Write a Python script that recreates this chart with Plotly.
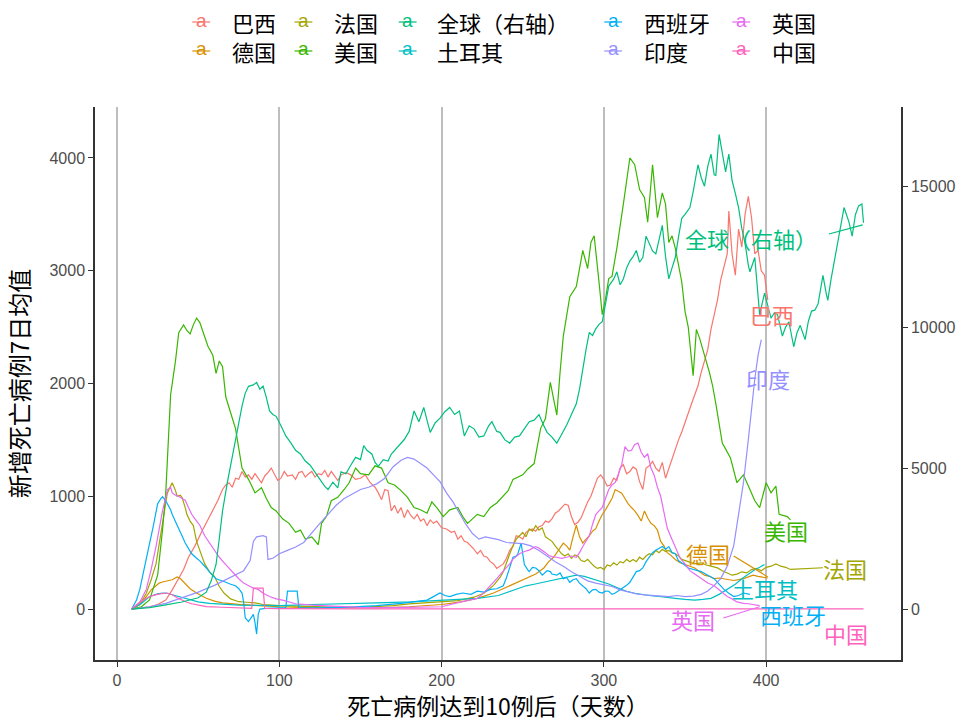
import plotly.graph_objects as go

# 死亡病例达到10例后的天数 / 新增死亡病例7日均值
brazil_day = [9, 20, 25, 30, 34, 38, 41, 44, 48, 52, 55, 59, 62, 65, 67, 69, 71, 73, 75, 77, 79, 81, 83, 85, 87, 89, 91, 93, 95, 97, 99, 101, 103, 105, 108, 110, 112, 114, 116, 118, 120, 122, 124, 126, 128, 130, 132, 134, 136, 138, 141, 144, 147, 150, 153, 156, 159, 161, 163, 165, 167, 169, 171, 173, 175, 177, 179, 181, 183, 185, 187, 189, 191, 193, 195, 197, 200, 203, 206, 208, 210, 212, 214, 216, 218, 220, 222, 224, 226, 228, 230, 232, 234, 236, 238, 240, 242, 244, 246, 248, 250, 252, 254, 256, 258, 260, 262, 264, 266, 268, 270, 272, 274, 276, 278, 280, 282, 284, 286, 288, 290, 292, 294, 296, 298, 300, 302, 304, 306, 308, 310, 312, 314, 316, 318, 320, 322, 324, 326, 328, 330, 332, 334, 336, 338, 340, 342, 344, 346, 348, 350, 352, 354, 356, 358, 360, 362, 364, 366, 368, 370, 372, 374, 376, 377, 379, 381, 383, 385, 387, 389, 391, 393, 395, 397, 399, 401]
brazil_val = [0, 20, 40, 80, 170, 270, 350, 460, 560, 680, 760, 870, 960, 1060, 1100, 1120, 1080, 1160, 1150, 1220, 1170, 1190, 1150, 1200, 1160, 1120, 1180, 1210, 1250, 1190, 1140, 1160, 1220, 1180, 1190, 1150, 1210, 1220, 1170, 1200, 1220, 1170, 1200, 1190, 1230, 1170, 1220, 1180, 1140, 1190, 1210, 1190, 1150, 1160, 1190, 1120, 1080, 1030, 970, 1060, 1050, 870, 920, 850, 900, 810, 880, 830, 800, 840, 780, 800, 740, 790, 760, 780, 720, 710, 680, 690, 620, 650, 600, 590, 560, 530, 490, 520, 470, 460, 420, 400, 360, 380, 400, 450, 520, 560, 650, 640, 620, 680, 700, 710, 690, 730, 740, 780, 770, 800, 850, 870, 900, 930, 920, 820, 750, 770, 810, 880, 950, 1000, 1080, 1160, 1190, 1150, 1090, 1100, 1160, 1140, 1250, 1280, 1200, 1220, 1260, 1240, 1130, 1060, 1250, 1270, 1310, 1250, 1220, 1300, 1160, 1250, 1340, 1420, 1500, 1570, 1660, 1750, 1820, 1900, 1980, 2100, 2200, 2300, 2480, 2600, 2740, 2920, 3050, 3150, 3530, 3150, 2960, 3370, 3210, 3500, 3660, 3470, 3150, 3180, 3000, 2960, 2740]

germany_day = [9, 14, 18, 21, 24, 26, 28, 30, 32, 34, 37, 39, 42, 45, 49, 52, 55, 60, 65, 75, 85, 100, 120, 140, 160, 180, 200, 212, 222, 232, 242, 252, 258, 263, 266, 269, 272, 275, 277, 279, 281, 283, 285, 287, 289, 291, 293, 295, 297, 299, 301, 303, 305, 307, 309, 311, 313, 315, 317, 319, 321, 323, 325, 327, 329, 331, 333, 335, 337, 339, 341, 344, 347, 350, 353, 356, 359, 362, 365, 368, 371, 374, 377, 380, 383, 386, 389, 392, 395, 398, 401]
germany_val = [0, 40, 110, 170, 206, 230, 240, 250, 253, 260, 285, 270, 222, 180, 142, 115, 95, 70, 54, 41, 32, 20, 10, 8, 10, 20, 40, 63, 95, 142, 206, 269, 310, 364, 420, 459, 520, 585, 560, 522, 640, 743, 640, 585, 620, 649, 690, 712, 780, 838, 880, 933, 980, 1060, 1040, 1028, 980, 933, 900, 870, 830, 780, 870, 807, 760, 740, 700, 600, 560, 500, 480, 440, 410, 395, 380, 364, 330, 300, 290, 270, 275, 269, 260, 253, 260, 269, 285, 300, 290, 285, 275]

france_day = [9, 14, 18, 21, 24, 26, 28, 30, 31, 33, 34, 36, 37, 39, 40, 42, 43, 45, 47, 49, 51, 54, 57, 60, 63, 66, 70, 75, 80, 85, 90, 95, 100, 110, 120, 130, 140, 150, 160, 170, 180, 190, 200, 210, 220, 226, 232, 236, 238, 240, 242, 244, 246, 248, 250, 252, 254, 256, 258, 260, 262, 264, 266, 268, 270, 272, 274, 276, 278, 280, 282, 284, 286, 288, 290, 292, 294, 296, 298, 300, 302, 304, 306, 308, 310, 312, 314, 316, 318, 320, 322, 324, 326, 328, 330, 332, 334, 336, 338, 340, 342, 344, 346, 348, 350, 353, 356, 360, 363, 366, 370, 373, 376, 379, 382, 385, 388, 391, 394, 397, 400, 403, 406, 409, 412, 415]
france_val = [0, 40, 140, 260, 400, 580, 780, 950, 1030, 1090, 1120, 1050, 1000, 1010, 990, 900, 840, 780, 740, 600, 520, 400, 330, 290, 200, 140, 90, 65, 60, 55, 40, 32, 30, 25, 20, 18, 15, 15, 20, 30, 45, 55, 63, 75, 105, 140, 210, 280, 330, 420, 490, 560, 620, 650, 680, 640, 710, 690, 740, 700, 720, 640, 620, 600, 560, 520, 490, 470, 490, 450, 480, 470, 430, 420, 440, 410, 380, 360, 370, 350, 390, 380, 410, 390, 420, 410, 440, 420, 440, 420, 460, 440, 470, 490, 480, 520, 500, 530, 510, 520, 500, 490, 470, 440, 430, 420, 400, 410, 390, 380, 365, 340, 320, 300, 310, 330, 320, 350, 360, 340, 370, 380, 400, 380, 370, 350]

usa_day = [9, 15, 20, 25, 28, 30, 33, 36, 38, 41, 43, 45, 47, 49, 51, 53, 56, 59, 61, 63, 65, 67, 70, 73, 77, 81, 85, 89, 92, 95, 98, 102, 106, 110, 113, 116, 120, 124, 126, 129, 132, 136, 140, 143, 147, 150, 155, 159, 163, 167, 171, 175, 179, 183, 187, 191, 194, 197, 201, 205, 210, 213, 216, 219, 222, 226, 230, 234, 238, 241, 244, 247, 250, 253, 257, 261, 264, 267, 269, 271, 273, 275, 279, 283, 287, 290, 292, 294, 297, 299, 301, 303, 305, 308, 312, 316, 319, 322, 325, 327, 330, 333, 336, 338, 340, 342, 344, 346, 348, 350, 352, 355, 357, 359, 361, 363, 365, 367, 369, 371, 373, 375, 378, 382, 386, 390, 393, 396, 398, 400, 403, 406, 408, 411, 413, 415]
usa_val = [0, 20, 80, 300, 700, 1030, 1900, 2200, 2450, 2520, 2470, 2440, 2520, 2580, 2540, 2450, 2330, 2250, 2090, 2200, 2150, 1880, 1750, 1600, 1250, 1150, 1030, 1075, 980, 900, 870, 800, 760, 680, 700, 620, 640, 570, 760, 820, 960, 990, 1060, 1120, 1250, 1200, 1190, 1270, 1250, 1120, 1100, 1050, 990, 900, 880, 850, 950, 900, 820, 880, 900, 820, 760, 800, 840, 820, 900, 940, 1000, 1050, 1150, 1170, 1190, 1240, 1290, 1600, 1690, 2010, 1880, 1720, 2100, 2420, 2770, 2860, 3180, 3020, 3250, 3310, 2900, 2610, 2750, 2930, 2950, 3200, 3590, 4000, 3940, 3720, 3650, 3430, 3940, 3470, 3690, 3590, 3250, 3310, 3200, 3050, 2900, 2640, 2500, 2070, 2480, 2400, 2290, 2200, 2100, 1980, 1820, 1650, 1470, 1420, 1340, 1120, 1190, 1060, 960, 900, 1000, 1120, 1030, 1090, 840, 830, 820, 790]

world_day = [9, 20, 30, 40, 50, 55, 58, 61, 63, 65, 68, 71, 73, 75, 77, 79, 81, 84, 86, 88, 90, 92, 94, 96, 98, 101, 104, 107, 110, 113, 116, 119, 122, 125, 128, 130, 133, 136, 138, 141, 144, 147, 150, 152, 154, 157, 159, 161, 164, 167, 169, 172, 175, 177, 180, 183, 186, 189, 191, 193, 196, 199, 202, 205, 208, 211, 214, 217, 220, 223, 226, 229, 231, 234, 236, 239, 242, 245, 248, 251, 254, 257, 260, 263, 265, 268, 271, 274, 277, 280, 283, 285, 287, 289, 291, 293, 295, 297, 299, 301, 303, 306, 308, 310, 312, 314, 316, 318, 320, 322, 324, 326, 328, 330, 332, 334, 336, 338, 340, 342, 344, 346, 348, 350, 353, 355, 358, 360, 362, 364, 366, 368, 369, 371, 373, 375, 377, 379, 381, 383, 385, 387, 389, 390, 393, 396, 399, 401, 403, 405, 407, 410, 412, 414, 417, 419, 421, 424, 426, 428, 430, 432, 435, 437, 438, 440, 442, 445, 448, 451, 453, 455, 457, 459, 460]
world_val = [0, 50, 150, 250, 400, 600, 1000, 1580, 2500, 3480, 4500, 5380, 6000, 6650, 7200, 7660, 7900, 7950, 8040, 7800, 7910, 7500, 7025, 6900, 6835, 6500, 6140, 5900, 5630, 5500, 5250, 5100, 4870, 4600, 4350, 4240, 4500, 4300, 4870, 4800, 5100, 5380, 5300, 5800, 5630, 5500, 5200, 5060, 5300, 5250, 5500, 5700, 5900, 6013, 6300, 7025, 6645, 7150, 6700, 6266, 6600, 6772, 7000, 7150, 6900, 7025, 6139, 6500, 6392, 6100, 6139, 6500, 6645, 6300, 6266, 6000, 5886, 6100, 6139, 6400, 6645, 6700, 6899, 6500, 6266, 6100, 5886, 6200, 6519, 6900, 7278, 7800, 8544, 9200, 9810, 9700, 9937, 10100, 10190, 10800, 11456, 11700, 11962, 11500, 11709, 12100, 12342, 12500, 12721, 12300, 12468, 13228, 12975, 12700, 12595, 13100, 13608, 12500, 11709, 12100, 12468, 13200, 13861, 14000, 14241, 14800, 15760, 15300, 15000, 15700, 16139, 15400, 15380, 16835, 16200, 15506, 16139, 15200, 14747, 14241, 13500, 12975, 12200, 11962, 12468, 10443, 11203, 10700, 10316, 10500, 10443, 9684, 10000, 10190, 9304, 9800, 10063, 9557, 10200, 10570, 10600, 10823, 11836, 11200, 10950, 11700, 12342, 13228, 14241, 13734, 13228, 13988, 14300, 14367, 13700]

turkey_day = [9, 15, 20, 25, 28, 31, 34, 38, 42, 46, 50, 57, 65, 75, 85, 100, 120, 140, 160, 181, 201, 222, 235, 242, 247, 252, 257, 263, 268, 273, 278, 283, 288, 293, 298, 303, 308, 314, 319, 324, 329, 334, 339, 344, 350, 356, 361, 366, 371, 376, 381, 385, 389, 393, 396, 399]
turkey_val = [0, 50, 111, 135, 142, 140, 127, 110, 95, 80, 63, 50, 41, 35, 32, 30, 40, 45, 55, 63, 79, 95, 120, 158, 180, 206, 220, 237, 255, 269, 285, 300, 290, 269, 245, 222, 190, 158, 140, 127, 118, 111, 100, 95, 85, 79, 85, 95, 130, 174, 220, 269, 310, 348, 370, 395]

spain_day = [9, 12, 14, 16, 18, 20, 22, 24, 25, 27, 28, 30, 31, 33, 34, 36, 38, 40, 42, 44, 46, 49, 51, 55, 58, 61, 64, 67, 70, 73, 75, 77, 78, 79, 81, 82, 84, 85, 86, 87, 88, 92, 100, 104, 105, 111, 112, 120, 140, 160, 175, 185, 191, 195, 199, 202, 205, 209, 213, 218, 222, 226, 230, 234, 238, 240, 242, 244, 246, 247, 249, 251, 253, 254, 256, 258, 260, 262, 265, 267, 268, 271, 273, 275, 277, 279, 281, 283, 285, 287, 289, 291, 293, 295, 297, 299, 301, 303, 305, 307, 310, 312, 314, 316, 318, 320, 322, 324, 326, 328, 330, 332, 334, 336, 338, 340, 342, 344, 346, 349, 352, 356, 360, 364, 368, 371, 374, 377, 380, 383, 386, 390]
spain_val = [0, 80, 174, 300, 427, 580, 712, 850, 933, 980, 997, 960, 933, 880, 838, 770, 712, 650, 585, 540, 490, 450, 427, 364, 310, 269, 250, 237, 220, 206, 180, 142, 60, -79, -111, -90, -47, -120, -222, -47, 0, 5, 10, 12, 158, 158, 12, 10, 15, 30, 50, 65, 79, 110, 142, 120, 111, 130, 142, 130, 158, 150, 174, 180, 206, 280, 364, 459, 470, 490, 585, 395, 350, 332, 370, 364, 340, 300, 340, 332, 310, 300, 320, 269, 280, 237, 260, 269, 230, 206, 180, 142, 170, 174, 150, 142, 160, 158, 130, 142, 170, 190, 210, 237, 280, 332, 340, 364, 420, 459, 500, 522, 540, 554, 530, 554, 500, 490, 427, 400, 364, 350, 332, 300, 269, 220, 174, 140, 111, 120, 142, 130]

india_day = [9, 20, 30, 40, 50, 60, 70, 78, 82, 84, 86, 90, 92, 93, 96, 100, 105, 110, 115, 120, 125, 130, 135, 140, 145, 150, 155, 160, 165, 170, 175, 179, 183, 187, 191, 195, 199, 203, 207, 211, 215, 219, 223, 227, 231, 235, 240, 245, 250, 255, 260, 265, 270, 275, 280, 285, 290, 295, 300, 305, 310, 315, 320, 325, 330, 335, 340, 345, 350, 355, 360, 364, 368, 372, 376, 380, 383, 386, 389, 391, 393, 395, 397]
india_val = [0, 20, 50, 100, 150, 210, 280, 340, 430, 600, 640, 650, 640, 440, 450, 490, 520, 550, 590, 680, 760, 840, 920, 980, 1020, 1060, 1080, 1110, 1160, 1260, 1320, 1345, 1330, 1290, 1250, 1190, 1130, 1030, 950, 850, 750, 670, 620, 640, 630, 615, 590, 585, 580, 560, 520, 470, 420, 380, 330, 290, 250, 230, 215, 200, 170, 150, 135, 125, 118, 112, 110, 120, 110, 115, 130, 160, 210, 270, 380, 560, 820, 1120, 1500, 1800, 2040, 2250, 2390]

uk_day = [9, 14, 18, 21, 24, 26, 28, 30, 31, 33, 34, 36, 38, 40, 42, 44, 46, 48, 51, 54, 57, 60, 63, 66, 69, 72, 75, 78, 81, 84, 87, 90, 94, 98, 102, 106, 110, 120, 130, 150, 170, 190, 200, 212, 222, 225, 228, 231, 234, 237, 240, 242, 244, 246, 248, 251, 254, 256, 258, 260, 262, 264, 266, 268, 271, 274, 277, 280, 283, 285, 287, 289, 291, 293, 295, 297, 299, 301, 303, 305, 307, 309, 311, 313, 315, 317, 319, 321, 323, 325, 327, 329, 331, 333, 335, 337, 339, 341, 344, 347, 350, 353, 356, 360, 364, 368, 372, 376, 379, 382, 386, 389, 396]
uk_val = [0, 60, 174, 350, 554, 720, 870, 990, 1060, 1080, 1030, 1010, 1000, 980, 965, 900, 840, 800, 743, 650, 585, 520, 459, 410, 364, 310, 269, 230, 206, 185, 174, 140, 111, 90, 79, 60, 47, 35, 30, 15, 12, 14, 20, 63, 95, 130, 174, 220, 269, 320, 364, 400, 443, 470, 490, 510, 522, 540, 554, 540, 522, 500, 475, 465, 459, 450, 459, 470, 459, 500, 554, 600, 649, 750, 838, 870, 900, 980, 1060, 1100, 1123, 1200, 1282, 1440, 1400, 1408, 1460, 1471, 1390, 1345, 1377, 1250, 1187, 1080, 1000, 860, 720, 650, 554, 450, 400, 340, 310, 269, 230, 206, 160, 111, 90, 63, 50, 47, 30]

china_day = [9, 14, 18, 21, 24, 27, 30, 32, 34, 37, 40, 43, 46, 50, 55, 65, 75, 83, 84, 90, 91, 100, 150, 200, 250, 300, 350, 400, 460]
china_val = [0, 60, 95, 115, 127, 135, 142, 138, 127, 100, 79, 60, 47, 35, 22, 16, 10, 5, 186, 186, 5, 3, 2, 2, 2, 2, 3, 2, 1]

series_names = ["巴西", "德国", "法国", "美国", "全球（右轴）", "土耳其", "西班牙", "印度", "英国", "中国"]
series_colors = ["#F8766D", "#D89000", "#A3A500", "#39B600", "#00BF7D",
                 "#00BFC4", "#00B0F6", "#9590FF", "#E76BF3", "#FF62BC"]
series_data = [(brazil_day, brazil_val), (germany_day, germany_val), (france_day, france_val),
               (usa_day, usa_val), (world_day, world_val), (turkey_day, turkey_val),
               (spain_day, spain_val), (india_day, india_val), (uk_day, uk_val),
               (china_day, china_val)]

# end-of-line labels (ggrepel style), in left-axis units
label_names = ["全球（右轴）", "巴西", "印度", "美国", "德国", "法国", "土耳其", "西班牙", "英国", "中国"]
label_day = [390.5, 403.5, 401, 412, 364, 448.5, 399, 416.5, 355, 449]
label_val = [3290, 2616, 2049, 700, 497, 364, 190, -40, -89, -213]
# label connector segments: (name, day0, val0, day1, val1)
segments = [("全球（右轴）", 438.7, 3326, 459.5, 3406),
            ("德国", 380, 470, 401, 285),
            ("法国", 415, 352, 435, 366),
            ("英国", 373.6, -80, 396, 20)]

CJK = "Noto Sans CJK SC"
fig = go.Figure()

for i, name in enumerate(series_names):
    d, v = series_data[i]
    fig.add_trace(go.Scatter(
        x=d, y=v, mode="lines", name=name,
        line=dict(color=series_colors[i], width=1.2),
        yaxis="y2" if name == "全球（右轴）" else "y",
        showlegend=False))

color_of = dict(zip(series_names, series_colors))

for name, dx, vy in zip(label_names, label_day, label_val):
    fig.add_annotation(x=dx, y=vy, xref="x", yref="y", text=name, showarrow=False,
                       font=dict(family=CJK, size=22, color=color_of[name]))

for name, x0, y0, x1, y1 in segments:
    fig.add_shape(type="line", xref="x", yref="y", x0=x0, y0=y0, x1=x1, y1=y1,
                  line=dict(color=color_of[name], width=1.2))

# legend drawn by hand: 2 rows x 5 columns, column-major like ggplot
key_px = [202, 305, 410, 617, 746]
text_px = [231, 334, 438, 646, 775]
row_py = [22, 51]
plot_l, plot_r, plot_t, plot_b = 95, 907, 107, 660
pw, ph = plot_r - plot_l, plot_b - plot_t
for i, name in enumerate(series_names):
    col, row = i // 2, i % 2
    kx = (key_px[col] - plot_l) / pw
    tx = (text_px[col] - plot_l) / pw
    ky = (plot_b - row_py[row]) / ph
    c = series_colors[i]
    fig.add_shape(type="line", xref="paper", yref="paper",
                  x0=kx - 9 / pw, x1=kx + 9 / pw, y0=ky, y1=ky,
                  line=dict(color=c, width=1.2))
    fig.add_annotation(x=kx, y=ky, xref="paper", yref="paper", text="a", showarrow=False,
                       font=dict(family="Liberation Sans", size=19, color=c),
                       xanchor="center", yanchor="middle", yshift=2)
    fig.add_annotation(x=tx, y=ky, xref="paper", yref="paper", text=name, showarrow=False,
                       font=dict(family=CJK, size=22, color="#000000"),
                       xanchor="left", yanchor="middle")

tick_font = dict(family="Liberation Sans", size=16, color="#4D4D4D")
fig.update_layout(
    width=968, height=722,
    margin=dict(l=plot_l, r=968 - plot_r, t=plot_t, b=722 - plot_b),
    paper_bgcolor="white", plot_bgcolor="white",
    showlegend=False,
    xaxis=dict(range=[-13.6, 483.1], tickvals=[0, 100, 200, 300, 400],
               showgrid=True, gridcolor="#BEBEBE", gridwidth=1.5, zeroline=False,
               showline=True, linecolor="#333333", linewidth=1.5,
               ticks="outside", ticklen=5, tickcolor="#333333", tickwidth=1.2,
               tickfont=tick_font,
               title=dict(text="死亡病例达到10例后（天数）",
                          font=dict(family=CJK, size=23, color="#000000"), standoff=5)),
    yaxis=dict(range=[-452, 4452], tickvals=[0, 1000, 2000, 3000, 4000],
               showgrid=False, zeroline=False,
               showline=True, linecolor="#333333", linewidth=1.5,
               ticks="outside", ticklen=5, tickcolor="#333333", tickwidth=1.2,
               tickfont=tick_font,
               title=dict(text="新增死亡病例7日均值",
                          font=dict(family=CJK, size=24, color="#000000"), standoff=13)),
    yaxis2=dict(range=[-1808, 17808], tickvals=[0, 5000, 10000, 15000],
                ticktext=["0", "5000", "10000", "15000"],
                overlaying="y", side="right", showgrid=False, zeroline=False,
                showline=True, linecolor="#333333", linewidth=1.5,
                ticks="outside", ticklen=5, tickcolor="#333333", tickwidth=1.2,
                tickfont=tick_font),
)

# the page body has a default 8px margin; drop it so the figure sits at the window corner
fig.write_html("out.html", config={"displayModeBar": False},
               post_script="document.body.style.margin='0';")
